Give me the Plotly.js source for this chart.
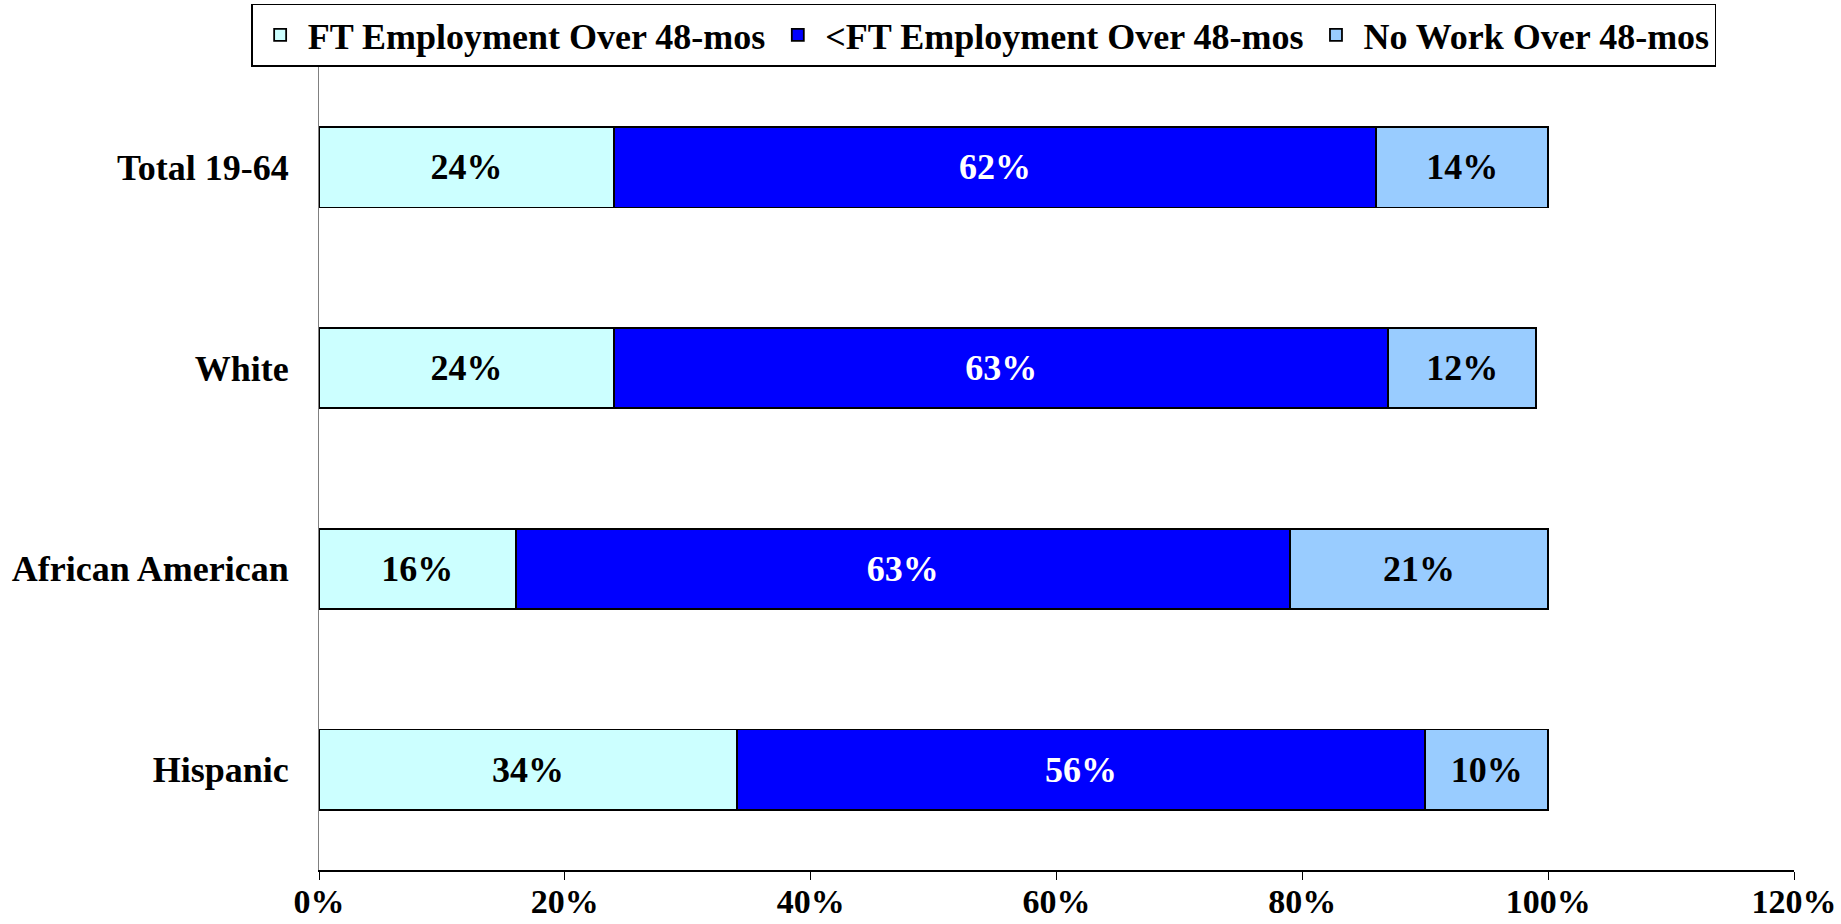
<!DOCTYPE html>
<html>
<head>
<meta charset="utf-8">
<script src="https://cdn.plot.ly/plotly-3.0.1.min.js"></script>
<style>html,body{margin:0;padding:0;background:#fff}#chart{width:1841px;height:924px}</style>
</head>
<body>
<div id="chart"></div>
<script>
const categories = ["Total 19-64", "White", "African American", "Hispanic"];
const seriesNames = ["FT Employment Over 48-mos", "<FT Employment Over 48-mos", "No Work Over 48-mos"];
const ftEmployment = [24, 24, 16, 34];
const partEmployment = [62, 63, 63, 56];
const noWork = [14, 12, 21, 10];
const xTickValues = [0, 20, 40, 60, 80, 100, 120];
const xTickLabels = ["0%", "20%", "40%", "60%", "80%", "100%", "120%"];

const colors = ["#CCFFFF", "#0000FF", "#99CCFF"];
const textColors = ["#000000", "#FFFFFF", "#000000"];
const seriesValues = [ftEmployment, partEmployment, noWork];
const FONT = "Liberation Serif, Times New Roman, serif";

const traces = seriesValues.map((vals, i) => ({
  type: "bar",
  orientation: "h",
  name: seriesNames[i],
  y: categories,
  x: vals,
  text: vals.map(v => v + "%"),
  textposition: "inside",
  insidetextanchor: "middle",
  textangle: 0,
  textfont: {family: FONT, size: 36, color: textColors[i], weight: "bold"},
  marker: {color: colors[i], line: {color: "#000000", width: 1.8}},
  hoverinfo: "none"
}));

const layout = {
  width: 1841, height: 924,
  margin: {l: 319, r: 47, t: 67, b: 54, autoexpand: false},
  barmode: "stack",
  bargap: 0.6,
  paper_bgcolor: "#ffffff",
  plot_bgcolor: "#ffffff",
  font: {family: FONT, size: 36, color: "#000000", weight: "bold"},
  showlegend: true,
  legend: {
    orientation: "h",
    x: -0.046, xanchor: "left",
    y: 1.079, yanchor: "top",
    bordercolor: "#000000", borderwidth: 1.5,
    bgcolor: "#ffffff",
    font: {family: FONT, size: 36, color: "#000000", weight: "bold"},
    traceorder: "normal",
    itemwidth: 45,
    tracegroupgap: 0
  },
  xaxis: {
    range: [0, 120],
    tickvals: xTickValues,
    ticktext: xTickLabels,
    ticks: "outside", ticklen: 8, tickwidth: 1, tickcolor: "#000000",
    showline: true, linecolor: "#000000", linewidth: 2,
    showgrid: false, zeroline: false,
    ticklabelstandoff: -8,
    tickfont: {family: FONT, size: 34, color: "#000000", weight: "bold"},
    fixedrange: true
  },
  yaxis: {
    type: "category",
    range: [3.5, -0.5],
    showline: true, linecolor: "#808080", linewidth: 1,
    showgrid: false, zeroline: false,
    ticks: "",
    ticklabelstandoff: 22,
    tickfont: {family: FONT, size: 36, color: "#000000", weight: "bold"},
    fixedrange: true
  }
};

Plotly.newPlot("chart", traces, layout, {displayModeBar: false, staticPlot: true});
</script>
</body>
</html>
